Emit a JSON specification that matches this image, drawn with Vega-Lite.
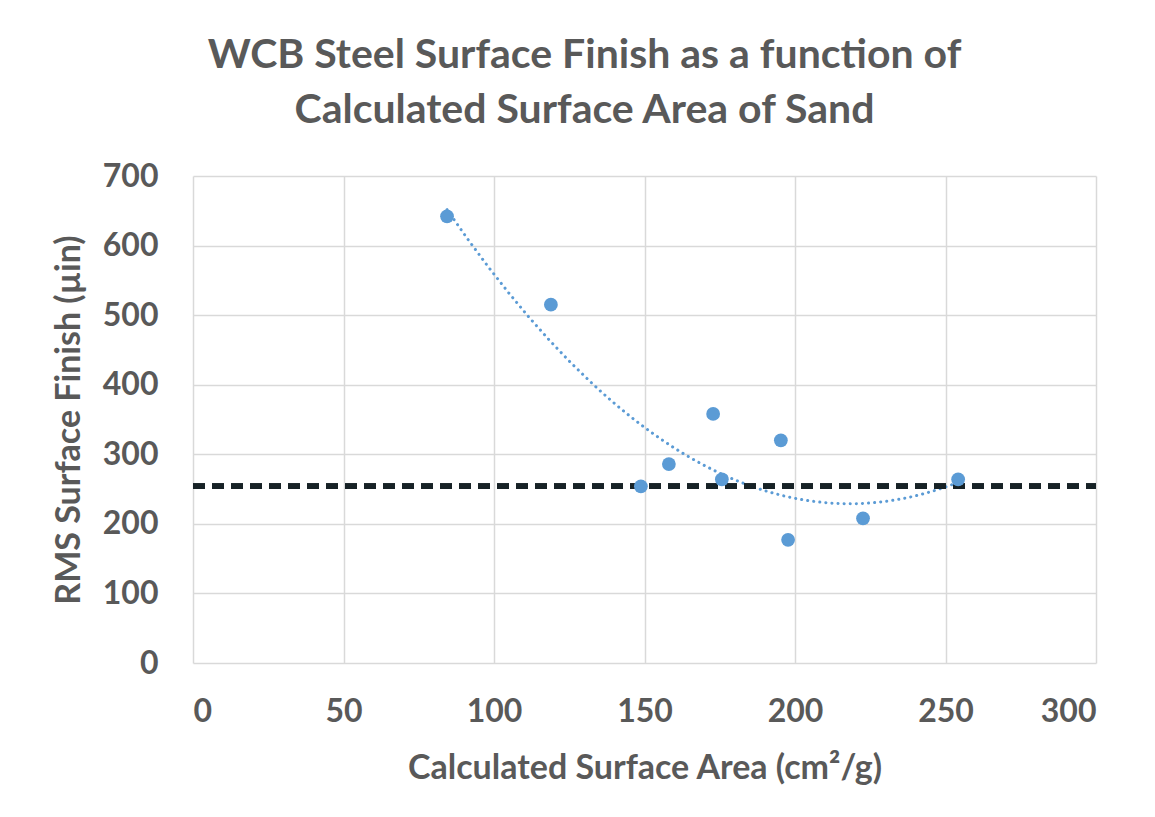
{
  "$schema": "https://vega.github.io/schema/vega-lite/v6.json",
  "autosize": {"type": "none"},
  "width": 903,
  "height": 487,
  "padding": {"left": 193, "top": 176, "right": 59, "bottom": 154},
  "background": "white",
  "title": {
    "text": ["WCB Steel Surface Finish as a function of", "Calculated Surface Area of Sand"],
    "font": "Lato",
    "fontSize": 41,
    "fontWeight": "bold",
    "color": "#595959",
    "anchor": "middle",
    "dx": -60,
    "offset": 28,
    "lineHeight": 55
  },
  "config": {
    "view": {"stroke": null},
    "axis": {
      "labelFont": "Lato",
      "labelFontSize": 32,
      "labelFontWeight": "bold",
      "labelColor": "#595959",
      "titleFont": "Lato",
      "titleFontSize": 34,
      "titleFontWeight": "bold",
      "titleColor": "#595959",
      "gridColor": "#d9d9d9",
      "gridWidth": 1.5,
      "domain": false,
      "ticks": false
    }
  },
  "data": {
    "values": [
      {"area": 84.4, "rms": 642},
      {"area": 118.9, "rms": 515},
      {"area": 148.8, "rms": 254},
      {"area": 158.1, "rms": 286},
      {"area": 172.8, "rms": 358},
      {"area": 175.7, "rms": 264},
      {"area": 195.3, "rms": 320},
      {"area": 197.7, "rms": 177},
      {"area": 222.6, "rms": 208},
      {"area": 254.2, "rms": 264}
    ]
  },
  "encoding": {
    "x": {
      "field": "area", "type": "quantitative",
      "scale": {"domain": [0, 300], "nice": false},
      "axis": {"values": [0, 50, 100, 150, 200, 250, 300], "title": "Calculated Surface Area (cm²/g)", "labelPadding": 33, "titlePadding": 24}
    },
    "y": {
      "field": "rms", "type": "quantitative",
      "scale": {"domain": [0, 700], "nice": false},
      "axis": {"values": [0, 100, 200, 300, 400, 500, 600, 700], "title": "RMS Surface Finish (µin)", "labelPadding": 35, "titlePadding": 16}
    }
  },
  "layer": [
    {
      "mark": {"type": "line", "color": "#5b9bd5", "strokeWidth": 3, "strokeDash": [0.1, 6], "strokeCap": "round"},
      "transform": [{"regression": "rms", "on": "area", "method": "poly", "order": 2}]
    },
    {
      "mark": {"type": "rule", "color": "#172226", "strokeWidth": 5, "strokeDash": [12, 7]},
      "encoding": {"y": {"datum": 254}, "x": {"datum": 0}, "x2": {"datum": 300}}
    },
    {
      "mark": {"type": "circle", "color": "#5b9bd5", "opacity": 1, "size": 190}
    }
  ]
}
